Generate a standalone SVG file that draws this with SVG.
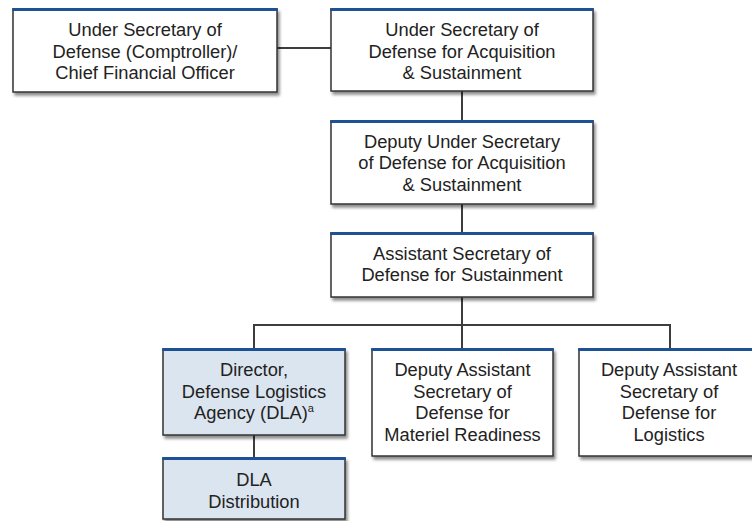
<svg xmlns="http://www.w3.org/2000/svg" width="752" height="521" viewBox="0 0 752 521">
<defs>
<filter id="sh" x="-10%" y="-10%" width="130%" height="140%">
<feGaussianBlur in="SourceAlpha" stdDeviation="1.5"/>
<feOffset dx="2" dy="3" result="b"/>
<feComponentTransfer><feFuncA type="linear" slope="0.45"/></feComponentTransfer>
<feMerge><feMergeNode/><feMergeNode in="SourceGraphic"/></feMerge>
</filter>
<style>
.box{fill:#ffffff;stroke:#333333;stroke-width:1.5;filter:url(#sh)}
.dla{fill:#dbe5f0}
.top{stroke:#1c5196;stroke-width:3}
.t{font-family:"Liberation Sans",Arial,sans-serif;font-size:18.3px;fill:#222222;text-anchor:middle}
.c{stroke:#3d3d3d;stroke-width:2;fill:none}
</style>
</defs>
<rect width="752" height="521" fill="#ffffff"/>
<g id="connectors">
<line class="c" x1="277" y1="48" x2="331" y2="48"/>
<line class="c" x1="462" y1="91" x2="462" y2="121"/>
<line class="c" x1="462" y1="204" x2="462" y2="233"/>
<line class="c" x1="462" y1="297" x2="462" y2="349"/>
<polyline class="c" points="254,349 254,325 670,325 670,349"/>
<line class="c" x1="254" y1="435" x2="254" y2="458"/>
</g>
<g id="usd-comptroller">
<rect class="box" x="13" y="9" width="264" height="83"/>
<line class="top" x1="12.25" y1="9.5" x2="277.75" y2="9.5"/>
<text class="t" x="145" y="36">Under Secretary of</text>
<text class="t" x="145" y="57.5">Defense (Comptroller)/</text>
<text class="t" x="145" y="79">Chief Financial Officer</text>
</g>
<g id="usd-as">
<rect class="box" x="331" y="9" width="262" height="82"/>
<line class="top" x1="330.25" y1="9.5" x2="593.75" y2="9.5"/>
<text class="t" x="462" y="36">Under Secretary of</text>
<text class="t" x="462" y="57.5">Defense for Acquisition</text>
<text class="t" x="462" y="79">&amp; Sustainment</text>
</g>
<g id="dusd-as">
<rect class="box" x="331" y="121" width="262" height="83"/>
<line class="top" x1="330.25" y1="121.5" x2="593.75" y2="121.5"/>
<text class="t" x="462" y="147.5">Deputy Under Secretary</text>
<text class="t" x="462" y="169">of Defense for Acquisition</text>
<text class="t" x="462" y="190.5">&amp; Sustainment</text>
</g>
<g id="asd-s">
<rect class="box" x="331" y="233" width="262" height="64"/>
<line class="top" x1="330.25" y1="233.5" x2="593.75" y2="233.5"/>
<text class="t" x="462" y="259.5">Assistant Secretary of</text>
<text class="t" x="462" y="281">Defense for Sustainment</text>
</g>
<g id="dla">
<rect class="box dla" x="163" y="349" width="182" height="86"/>
<line class="top" x1="162.25" y1="349.5" x2="345.75" y2="349.5"/>
<text class="t" x="254" y="376">Director,</text>
<text class="t" x="254" y="397.5">Defense Logistics</text>
<text class="t" x="254" y="419">Agency (DLA)<tspan font-size="11" dy="-7">a</tspan></text>
</g>
<g id="dla-distribution">
<rect class="box dla" x="163" y="458" width="182" height="61"/>
<line class="top" x1="162.25" y1="458.5" x2="345.75" y2="458.5"/>
<text class="t" x="254" y="486">DLA</text>
<text class="t" x="254" y="507.5">Distribution</text>
</g>
<g id="dasd-mr">
<rect class="box" x="372" y="349" width="181" height="107"/>
<line class="top" x1="371.25" y1="349.5" x2="553.75" y2="349.5"/>
<text class="t" x="462.5" y="375.5">Deputy Assistant</text>
<text class="t" x="462.5" y="397.5">Secretary of</text>
<text class="t" x="462.5" y="419">Defense for</text>
<text class="t" x="462.5" y="440.5">Materiel Readiness</text>
</g>
<g id="dasd-log">
<rect class="box" x="579" y="349" width="180" height="107"/>
<line class="top" x1="578.25" y1="349.5" x2="759.75" y2="349.5"/>
<text class="t" x="669" y="375.5">Deputy Assistant</text>
<text class="t" x="669" y="397.5">Secretary of</text>
<text class="t" x="669" y="419">Defense for</text>
<text class="t" x="669" y="440.5">Logistics</text>
</g>
</svg>
